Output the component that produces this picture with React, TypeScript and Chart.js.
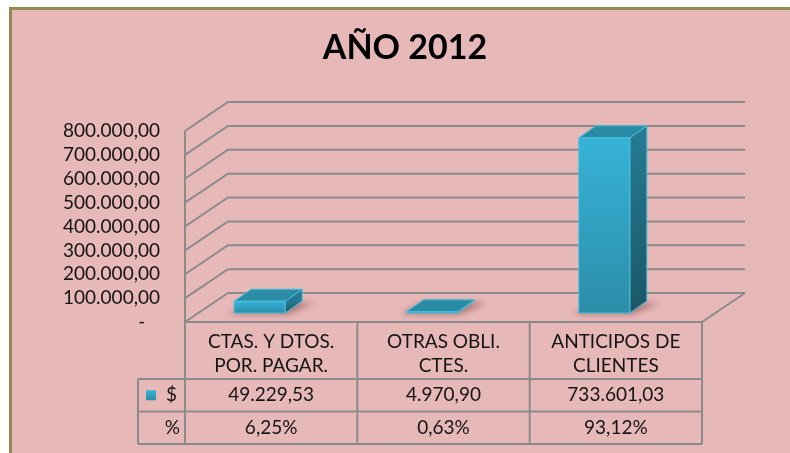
import React, { useEffect, useRef } from 'react';
import { Chart, registerables } from 'chart.js';

Chart.register(...registerables);

// ---------- data ----------
const TITLE = 'AÑO 2012';
const categories = ['CTAS. Y DTOS. POR. PAGAR.', 'OTRAS OBLI. CTES.', 'ANTICIPOS DE CLIENTES'];
const categoryLines = [
  ['CTAS. Y DTOS.', 'POR. PAGAR.'],
  ['OTRAS OBLI.', 'CTES.'],
  ['ANTICIPOS DE', 'CLIENTES'],
];
const amounts = [49229.53, 4970.9, 733601.03];
const percents = [6.25, 0.63, 93.12];
const seriesLabel = '$';
const percentLabel = '%';
const yMin = 0;
const yMax = 800000;
const yStep = 100000;

// ---------- style ----------
const FONT = 'Lato, "Open Sans", sans-serif';
const PINK = '#e6b8b7';
const OLIVE = '#948a54';
const LINE = '#8b8b8b';
const TEXT = '#151515';
const DEPTH_X = 43;
const DEPTH_Y = -29;
const BAR_SHIFT_X = -11.5;
const BAR_SHIFT_Y = -9;
const BAR_DX = 17;
const BAR_DY = -12;

function fmtNum(v: number): string {
  if (v === 0) return '-';
  const [i, d] = v.toFixed(2).split('.');
  return i.replace(/\B(?=(\d{3})+(?!\d))/g, '.') + ',' + d;
}
function fmtPct(v: number): string {
  return v.toFixed(2).replace('.', ',') + '%';
}

const bgPlugin = {
  id: 'bg',
  beforeDraw(chart: any) {
    const { ctx, width, height } = chart;
    ctx.save();
    ctx.fillStyle = '#ffffff';
    ctx.fillRect(0, 0, width, height);
    ctx.fillStyle = PINK;
    ctx.fillRect(9, 7, width - 9, height - 7);
    ctx.fillStyle = OLIVE;
    ctx.fillRect(9, 7, 3, height - 7);
    ctx.fillRect(9, 7, width - 9, 3);
    ctx.fillStyle = '#000';
    ctx.font = `bold 34px ${FONT}`;
    ctx.textAlign = 'center';
    ctx.textBaseline = 'middle';
    ctx.fillText(TITLE, 405, 48);
    ctx.restore();
  },
};

const threeDPlugin = {
  id: 'threeD',
  beforeDatasetsDraw(chart: any) {
    const { ctx, chartArea } = chart;
    const y = chart.scales.y;
    ctx.save();
    ctx.strokeStyle = LINE;
    ctx.lineWidth = 2;
    ctx.lineJoin = 'miter';
    for (let v = yMin; v <= yMax; v += yStep) {
      const py = y.getPixelForValue(v);
      ctx.beginPath();
      ctx.moveTo(chartArea.left, py);
      ctx.lineTo(chartArea.left + DEPTH_X, py + DEPTH_Y);
      ctx.lineTo(chartArea.right + DEPTH_X, py + DEPTH_Y);
      ctx.stroke();
    }
    const p0 = y.getPixelForValue(0);
    ctx.beginPath();
    ctx.moveTo(chartArea.right, p0);
    ctx.lineTo(chartArea.right + DEPTH_X, p0 + DEPTH_Y);
    ctx.stroke();
    ctx.beginPath();
    ctx.moveTo(chartArea.left, y.getPixelForValue(yMax));
    ctx.lineTo(chartArea.left, p0);
    ctx.stroke();
    ctx.restore();
  },
  afterDatasetsDraw(chart: any) {
    const { ctx } = chart;
    const meta = chart.getDatasetMeta(0);
    meta.data.forEach((el: any) => {
      const { x, y, base, width } = el.getProps(['x', 'y', 'base', 'width'], true);
      const cx = x + BAR_SHIFT_X;
      const l = cx - width / 2;
      const r = cx + width / 2;
      const t = Math.min(y, base - 1) + BAR_SHIFT_Y;
      const b = base + BAR_SHIFT_Y;
      ctx.save();
      ctx.filter = 'blur(3px)';
      ctx.fillStyle = 'rgba(90,30,30,0.45)';
      ctx.beginPath();
      ctx.moveTo(l - 6, b + 1);
      ctx.lineTo(r + 2, b + 1);
      ctx.lineTo(r + BAR_DX + 12, b + BAR_DY + 2);
      ctx.lineTo(l + BAR_DX, b + BAR_DY + 2);
      ctx.closePath();
      ctx.fill();
      ctx.filter = 'none';
      ctx.lineWidth = 1;
      ctx.strokeStyle = '#47bedf';
      ctx.lineJoin = 'round';
      const sg = ctx.createLinearGradient(0, t, 0, b);
      sg.addColorStop(0, '#257a91');
      sg.addColorStop(1, '#1b5667');
      ctx.fillStyle = sg;
      ctx.beginPath();
      ctx.moveTo(r, t);
      ctx.lineTo(r + BAR_DX, t + BAR_DY);
      ctx.lineTo(r + BAR_DX, b + BAR_DY);
      ctx.lineTo(r, b);
      ctx.closePath();
      ctx.fill();
      ctx.stroke();
      ctx.fillStyle = '#2a8ba5';
      ctx.beginPath();
      ctx.moveTo(l, t);
      ctx.lineTo(l + BAR_DX, t + BAR_DY);
      ctx.lineTo(r + BAR_DX, t + BAR_DY);
      ctx.lineTo(r, t);
      ctx.closePath();
      ctx.fill();
      ctx.stroke();
      if (b - t > 0.5) {
        const fg = ctx.createLinearGradient(0, t, 0, b);
        fg.addColorStop(0, '#37b3d8');
        fg.addColorStop(1, '#2b8da8');
        ctx.fillStyle = fg;
        ctx.fillRect(l, t, r - l, b - t);
        ctx.strokeRect(l, t, r - l, b - t);
      }
      ctx.restore();
    });
  },
  afterDraw(chart: any) {
    const { ctx, chartArea } = chart;
    const xs = chart.scales.x;
    const ys = chart.scales.y;
    const top = ys.getPixelForValue(0);
    const n = categories.length;
    const colW = (chartArea.right - chartArea.left) / n;
    const headerH = 57;
    const rowH = 32.5;
    const legendW = 47;
    const r1 = top + headerH;
    const r2 = r1 + rowH;
    const r3 = r2 + rowH;
    const left = chartArea.left;
    const right = chartArea.right;
    ctx.save();
    ctx.strokeStyle = LINE;
    ctx.lineWidth = 2;
    ctx.beginPath();
    ctx.moveTo(left, top);
    ctx.lineTo(right, top);
    [r1, r2, r3].forEach((yy) => {
      ctx.moveTo(left - legendW, yy);
      ctx.lineTo(right, yy);
    });
    ctx.moveTo(left - legendW, r1);
    ctx.lineTo(left - legendW, r3);
    for (let i = 0; i <= n; i++) {
      const xx = i < n ? xs.getPixelForValue(i) - colW / 2 : xs.getPixelForValue(n - 1) + colW / 2;
      ctx.moveTo(xx, top);
      ctx.lineTo(xx, r3);
    }
    ctx.stroke();

    ctx.fillStyle = TEXT;
    ctx.font = `19px ${FONT}`;
    ctx.textAlign = 'center';
    ctx.textBaseline = 'middle';
    for (let i = 0; i < n; i++) {
      const cx = xs.getPixelForValue(i);
      categoryLines[i].forEach((ln, k) => {
        ctx.fillText(ln, cx, top + 20 + k * 24);
      });
      ctx.fillText(fmtNum(amounts[i]), cx, r1 + rowH / 2);
      ctx.fillText(fmtPct(percents[i]), cx, r2 + rowH / 2);
    }
    ctx.textAlign = 'right';
    ctx.fillText(seriesLabel, left - 8, r1 + rowH / 2);
    ctx.fillText(percentLabel, left - 5, r2 + rowH / 2);
    const ky = r1 + rowH / 2;
    const kg = ctx.createLinearGradient(0, ky - 5, 0, ky + 5);
    kg.addColorStop(0, '#38b6da');
    kg.addColorStop(1, '#2a8aa4');
    ctx.fillStyle = kg;
    ctx.fillRect(left - 39, ky - 5, 10, 10);
    ctx.restore();
  },
};

export default function App() {
  const ref = useRef<HTMLCanvasElement | null>(null);
  useEffect(() => {
    document.body.style.overflow = 'hidden';
    const canvas = ref.current!;
    const chart = new Chart(canvas, {
      type: 'bar',
      data: {
        labels: categories,
        datasets: [
          {
            label: seriesLabel,
            data: amounts,
            backgroundColor: 'rgba(0,0,0,0)',
            borderWidth: 0,
            barThickness: 51,
          },
        ],
      },
      options: {
        animation: false,
        responsive: false,
        devicePixelRatio: 1,
        layout: { padding: { left: 20, right: 88, top: 131, bottom: 131 } },
        plugins: {
          legend: { display: false },
          tooltip: { enabled: false },
          title: { display: false },
        },
        scales: {
          x: { type: 'category', display: false, offset: true },
          y: {
            min: yMin,
            max: yMax,
            afterFit(scale: any) {
              scale.width = 165;
            },
            grid: { display: false, drawTicks: false },
            border: { display: false },
            ticks: {
              stepSize: yStep,
              autoSkip: false,
              padding: 25,
              color: TEXT,
              font: { family: FONT, size: 19 },
              callback: (v: any) => (Number(v) === 0 ? '-   ' : fmtNum(Number(v))),
            },
          },
        },
      },
      plugins: [bgPlugin, threeDPlugin],
    });
    return () => chart.destroy();
  }, []);
  return (
    <div style={{ position: 'fixed', left: 0, top: 0, width: 790, height: 453 }}>
      <canvas ref={ref} width={790} height={453} style={{ display: 'block', width: 790, height: 453 }} />
    </div>
  );
}
